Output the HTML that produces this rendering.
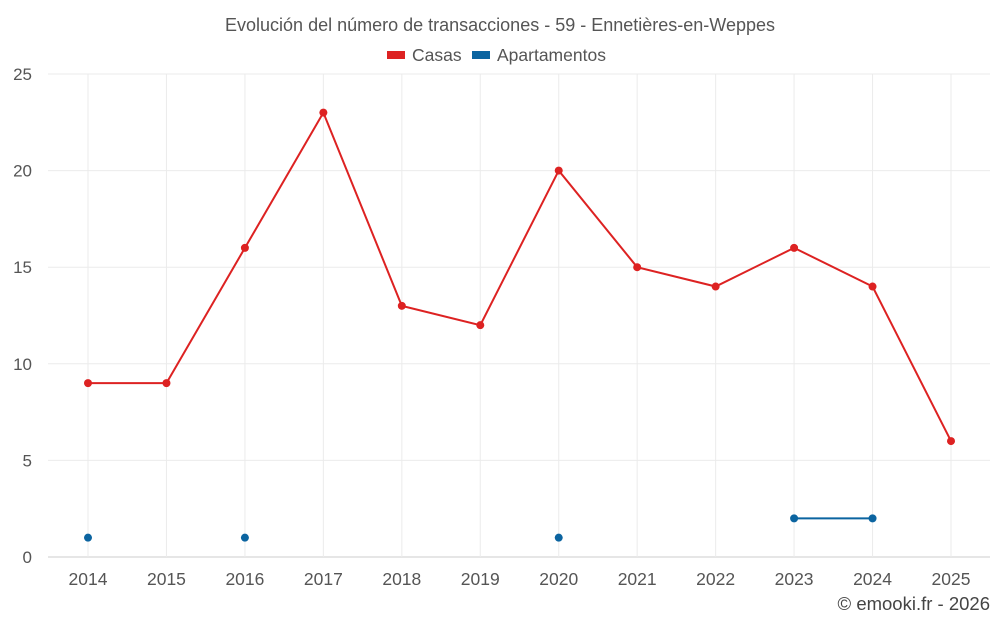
<!DOCTYPE html>
<html><head><meta charset="utf-8"><style>
body{margin:0;background:#fff;font-family:"Liberation Sans",sans-serif;}
svg{display:block}
</style></head><body>
<svg id="chart" width="1000" height="625">
<text x="500" y="31" text-anchor="middle" font-size="18" fill="#555">Evolución del número de transacciones - 59 - Ennetières-en-Weppes</text>
<g>
<g><rect x="387" y="51" width="18" height="8" fill="#dd2222"/><text x="412" y="61" font-size="17.5" fill="#555">Casas</text></g>
<g><rect x="472" y="51" width="18" height="8" fill="#0b64a0"/><text x="497" y="61" font-size="17.5" fill="#555">Apartamentos</text></g>
</g>
<g id="grid"></g><g id="axes"></g><g id="series"></g>
<text x="990" y="610" text-anchor="end" font-size="18.5" fill="#444">© emooki.fr - 2026</text>
</svg>
<script>
const years=[2014,2015,2016,2017,2018,2019,2020,2021,2022,2023,2024,2025];
const casas=[9,9,16,23,13,12,20,15,14,16,14,6];
const apartamentos=[1,null,1,null,null,null,1,null,null,2,2,null];
const yTicks=[0,5,10,15,20,25];
const NS="http://www.w3.org/2000/svg";
const L=48,R=990,T=74,B=557;
const x=i=>88+i*(951-88)/(years.length-1);
const y=v=>B-(v/25)*(B-T);
function mk(tag,attrs,parent){const e=document.createElementNS(NS,tag);for(const k in attrs)e.setAttribute(k,attrs[k]);parent.appendChild(e);return e;}
const grid=document.getElementById('grid'),axes=document.getElementById('axes'),ser=document.getElementById('series');
yTicks.forEach(t=>{
 const l=mk('line',{x1:L,x2:R,y1:y(t),y2:y(t),stroke:t===0?'#ccc':'#ebebeb'},grid);
 
 
 const tx=mk('text',{x:32,y:y(t)+6,'text-anchor':'end','font-size':17,fill:'#555'},axes);tx.textContent=t;
 
 
});
years.forEach((yr,i)=>{
 const l=mk('line',{x1:x(i),x2:x(i),y1:T,y2:B,stroke:'#ebebeb'},grid);
 
 
 const tx=mk('text',{x:x(i),y:585,'text-anchor':'middle','font-size':17.5,fill:'#555'},axes);tx.textContent=yr;
 
 
});
function draw(vals,color,name){
 let seg=[];
 const flush=()=>{if(seg.length>1){const p=mk('polyline',{points:seg.join(' '),fill:'none',stroke:color,'stroke-width':2},ser);
 
 }seg=[];};
 vals.forEach((v,i)=>{if(v==null){flush();return;}seg.push(x(i)+','+y(v));});
 flush();
 vals.forEach((v,i)=>{if(v==null)return;const c=mk('circle',{cx:x(i),cy:y(v),r:4,fill:color},ser);
 
 });
}
draw(casas,'#dd2222','casas');
draw(apartamentos,'#0b64a0','apartamentos');
</script>
</body></html>
